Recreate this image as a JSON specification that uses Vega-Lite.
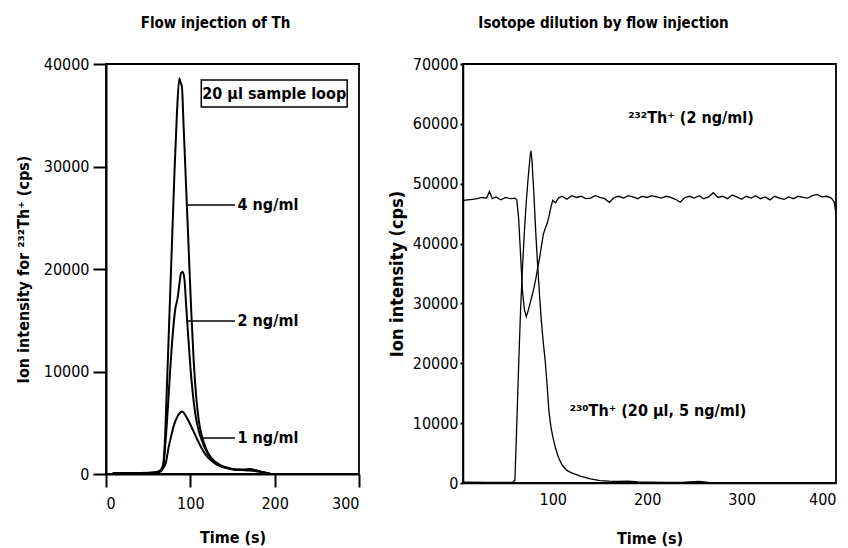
{
  "$schema": "https://vega.github.io/schema/vega-lite/v6.json",
  "background": "white",
  "padding": {"left": 14, "top": 15, "right": 0, "bottom": 0},
  "config": {
    "font": "DejaVu Sans Condensed",
    "view": {"stroke": "black", "strokeWidth": 1.8},
    "axis": {"grid": false, "format": "d", "domainColor": "black", "domainWidth": 2, "tickColor": "black", "tickWidth": 2, "labelColor": "black", "titleColor": "black", "labelFontSize": 16, "titleFontSize": 16, "titleFontWeight": "bold", "labelFont": "DejaVu Sans Condensed", "titleFont": "DejaVu Sans Condensed"},
    "title": {"fontSize": 15, "fontWeight": "bold", "anchor": "middle", "frame": "group", "font": "DejaVu Sans Condensed", "color": "black"},
    "concat": {"spacing": 26}
  },
  "datasets": {
    "left": [
      {"conc": "4", "t": 8, "v": 100}, {"conc": "4", "t": 30, "v": 100}, {"conc": "4", "t": 50, "v": 120}, {"conc": "4", "t": 60, "v": 200}, {"conc": "4", "t": 65, "v": 400}, {"conc": "4", "t": 68, "v": 1000}, {"conc": "4", "t": 70, "v": 3500}, {"conc": "4", "t": 72, "v": 8000}, {"conc": "4", "t": 75, "v": 15000}, {"conc": "4", "t": 78, "v": 22000}, {"conc": "4", "t": 81, "v": 29000}, {"conc": "4", "t": 84, "v": 35000}, {"conc": "4", "t": 87, "v": 38600}, {"conc": "4", "t": 88, "v": 38300}, {"conc": "4", "t": 90, "v": 37800}, {"conc": "4", "t": 92, "v": 34000}, {"conc": "4", "t": 95, "v": 28000}, {"conc": "4", "t": 98, "v": 22000}, {"conc": "4", "t": 101, "v": 16000}, {"conc": "4", "t": 104, "v": 11000}, {"conc": "4", "t": 107, "v": 7500}, {"conc": "4", "t": 110, "v": 5200}, {"conc": "4", "t": 114, "v": 3600}, {"conc": "4", "t": 118, "v": 2600}, {"conc": "4", "t": 122, "v": 1900}, {"conc": "4", "t": 128, "v": 1300}, {"conc": "4", "t": 135, "v": 900}, {"conc": "4", "t": 145, "v": 600}, {"conc": "4", "t": 155, "v": 450}, {"conc": "4", "t": 165, "v": 450}, {"conc": "4", "t": 170, "v": 500}, {"conc": "4", "t": 175, "v": 400}, {"conc": "4", "t": 185, "v": 200}, {"conc": "4", "t": 195, "v": 50},
      {"conc": "2", "t": 8, "v": 80}, {"conc": "2", "t": 50, "v": 100}, {"conc": "2", "t": 60, "v": 180}, {"conc": "2", "t": 65, "v": 350}, {"conc": "2", "t": 68, "v": 900}, {"conc": "2", "t": 70, "v": 2500}, {"conc": "2", "t": 73, "v": 6000}, {"conc": "2", "t": 76, "v": 10000}, {"conc": "2", "t": 79, "v": 13500}, {"conc": "2", "t": 82, "v": 16000}, {"conc": "2", "t": 85, "v": 17200}, {"conc": "2", "t": 87, "v": 18500}, {"conc": "2", "t": 89, "v": 19600}, {"conc": "2", "t": 91, "v": 19700}, {"conc": "2", "t": 93, "v": 19000}, {"conc": "2", "t": 95, "v": 16500}, {"conc": "2", "t": 97, "v": 14000}, {"conc": "2", "t": 100, "v": 10500}, {"conc": "2", "t": 103, "v": 7800}, {"conc": "2", "t": 106, "v": 5800}, {"conc": "2", "t": 110, "v": 4200}, {"conc": "2", "t": 114, "v": 3200}, {"conc": "2", "t": 118, "v": 2400}, {"conc": "2", "t": 122, "v": 1800}, {"conc": "2", "t": 128, "v": 1200}, {"conc": "2", "t": 135, "v": 800}, {"conc": "2", "t": 145, "v": 550}, {"conc": "2", "t": 155, "v": 400}, {"conc": "2", "t": 165, "v": 400}, {"conc": "2", "t": 172, "v": 450}, {"conc": "2", "t": 180, "v": 300}, {"conc": "2", "t": 190, "v": 100},
      {"conc": "1", "t": 8, "v": 60}, {"conc": "1", "t": 50, "v": 80}, {"conc": "1", "t": 60, "v": 120}, {"conc": "1", "t": 65, "v": 250}, {"conc": "1", "t": 68, "v": 600}, {"conc": "1", "t": 71, "v": 1100}, {"conc": "1", "t": 74, "v": 2500}, {"conc": "1", "t": 77, "v": 3600}, {"conc": "1", "t": 80, "v": 4600}, {"conc": "1", "t": 84, "v": 5500}, {"conc": "1", "t": 88, "v": 6000}, {"conc": "1", "t": 90, "v": 6100}, {"conc": "1", "t": 92, "v": 6000}, {"conc": "1", "t": 95, "v": 5600}, {"conc": "1", "t": 99, "v": 5000}, {"conc": "1", "t": 103, "v": 4300}, {"conc": "1", "t": 107, "v": 3600}, {"conc": "1", "t": 111, "v": 2900}, {"conc": "1", "t": 115, "v": 2300}, {"conc": "1", "t": 120, "v": 1700}, {"conc": "1", "t": 125, "v": 1300}, {"conc": "1", "t": 132, "v": 900}, {"conc": "1", "t": 140, "v": 650}, {"conc": "1", "t": 148, "v": 500}, {"conc": "1", "t": 160, "v": 400}, {"conc": "1", "t": 170, "v": 350}, {"conc": "1", "t": 180, "v": 250}, {"conc": "1", "t": 190, "v": 100}
    ],
    "leftLabels": [
      {"label": "4 ng/ml", "x1": 97, "x2": 153, "y": 26240, "tx": 156},
      {"label": "2 ng/ml", "x1": 97, "x2": 153, "y": 14930, "tx": 156},
      {"label": "1 ng/ml", "x1": 115, "x2": 153, "y": 3510, "tx": 156}
    ],
    "leftBox": [
      {"label": "20 µl sample loop", "x1": 113, "x2": 286, "y1": 35800, "y2": 38440, "xc": 199.5, "yc": 37120}
    ],
    "th232": [
      {"t": 5, "v": 47200}, {"t": 10, "v": 47300}, {"t": 15, "v": 47400}, {"t": 20, "v": 47500}, {"t": 25, "v": 47700}, {"t": 30, "v": 47600}, {"t": 33, "v": 48700}, {"t": 36, "v": 47500}, {"t": 40, "v": 47800}, {"t": 45, "v": 47300}, {"t": 50, "v": 47700}, {"t": 55, "v": 47500}, {"t": 60, "v": 47600}, {"t": 62, "v": 47300}, {"t": 64, "v": 44000}, {"t": 66, "v": 38000}, {"t": 68, "v": 32000}, {"t": 70, "v": 29000}, {"t": 72, "v": 27800}, {"t": 74, "v": 28800}, {"t": 76, "v": 30000}, {"t": 78, "v": 31200}, {"t": 80, "v": 32500}, {"t": 82, "v": 34000}, {"t": 84, "v": 35800}, {"t": 86, "v": 37500}, {"t": 88, "v": 39500}, {"t": 90, "v": 41500}, {"t": 92, "v": 42500}, {"t": 94, "v": 43300}, {"t": 96, "v": 44500}, {"t": 98, "v": 46000}, {"t": 100, "v": 47200}, {"t": 103, "v": 46800}, {"t": 106, "v": 47600}, {"t": 110, "v": 47900}, {"t": 115, "v": 47400}, {"t": 120, "v": 48000}, {"t": 125, "v": 47700}, {"t": 130, "v": 47900}, {"t": 135, "v": 47500}, {"t": 140, "v": 47600}, {"t": 145, "v": 48000}, {"t": 150, "v": 47700}, {"t": 155, "v": 47500}, {"t": 160, "v": 46900}, {"t": 165, "v": 47700}, {"t": 170, "v": 47900}, {"t": 175, "v": 47600}, {"t": 180, "v": 48000}, {"t": 185, "v": 47800}, {"t": 190, "v": 47500}, {"t": 195, "v": 47900}, {"t": 200, "v": 47700}, {"t": 205, "v": 48000}, {"t": 210, "v": 47800}, {"t": 215, "v": 47600}, {"t": 220, "v": 47900}, {"t": 225, "v": 47700}, {"t": 230, "v": 47400}, {"t": 235, "v": 46900}, {"t": 240, "v": 47700}, {"t": 245, "v": 47900}, {"t": 250, "v": 47600}, {"t": 255, "v": 48000}, {"t": 260, "v": 47500}, {"t": 265, "v": 47800}, {"t": 270, "v": 48500}, {"t": 275, "v": 47700}, {"t": 280, "v": 47900}, {"t": 285, "v": 47500}, {"t": 290, "v": 48100}, {"t": 295, "v": 47800}, {"t": 300, "v": 47400}, {"t": 305, "v": 47900}, {"t": 310, "v": 47600}, {"t": 315, "v": 48000}, {"t": 320, "v": 47500}, {"t": 325, "v": 47800}, {"t": 330, "v": 47300}, {"t": 335, "v": 47900}, {"t": 340, "v": 47600}, {"t": 345, "v": 47400}, {"t": 350, "v": 47800}, {"t": 355, "v": 47500}, {"t": 360, "v": 47900}, {"t": 365, "v": 47700}, {"t": 370, "v": 47600}, {"t": 375, "v": 48000}, {"t": 380, "v": 48200}, {"t": 385, "v": 47800}, {"t": 390, "v": 47900}, {"t": 395, "v": 47600}, {"t": 398, "v": 47000}, {"t": 400, "v": 45000}
    ],
    "th230": [
      {"t": 5, "v": 150}, {"t": 30, "v": 100}, {"t": 58, "v": 100}, {"t": 60, "v": 500}, {"t": 62, "v": 10000}, {"t": 64, "v": 20000}, {"t": 66, "v": 29000}, {"t": 68, "v": 36000}, {"t": 70, "v": 42000}, {"t": 72, "v": 47000}, {"t": 74, "v": 51000}, {"t": 76, "v": 54500}, {"t": 77, "v": 55500}, {"t": 78, "v": 54000}, {"t": 80, "v": 48500}, {"t": 82, "v": 42000}, {"t": 84, "v": 36500}, {"t": 86, "v": 31500}, {"t": 88, "v": 27000}, {"t": 90, "v": 23500}, {"t": 92, "v": 20500}, {"t": 94, "v": 16500}, {"t": 96, "v": 12000}, {"t": 98, "v": 9500}, {"t": 100, "v": 7800}, {"t": 103, "v": 5800}, {"t": 106, "v": 4300}, {"t": 110, "v": 3000}, {"t": 115, "v": 2100}, {"t": 120, "v": 1700}, {"t": 125, "v": 1400}, {"t": 130, "v": 1100}, {"t": 140, "v": 700}, {"t": 150, "v": 400}, {"t": 160, "v": 300}, {"t": 170, "v": 250}, {"t": 180, "v": 300}, {"t": 190, "v": 200}, {"t": 200, "v": 150}, {"t": 220, "v": 100}, {"t": 240, "v": 150}, {"t": 255, "v": 250}, {"t": 265, "v": 100}, {"t": 300, "v": 50}, {"t": 350, "v": 50}, {"t": 400, "v": 50}
    ],
    "rightLabels": [
      {"label": "²³²Th⁺ (2 ng/ml)", "t": 180, "v": 61000},
      {"label": "²³⁰Th⁺ (20 µl, 5 ng/ml)", "t": 118, "v": 12000}
    ]
  },
  "hconcat": [
    {
      "width": 253,
      "height": 410,
      "title": {"text": "Flow injection of Th", "offset": 25, "dx": -17},
      "encoding": {
        "x": {"type": "quantitative", "scale": {"domain": [0, 300], "nice": false}, "axis": {"values": [0, 100, 200, 300], "tickSize": 13, "labelPadding": 8, "title": "Time (s)", "titlePadding": 18}},
        "y": {"type": "quantitative", "scale": {"domain": [0, 40000], "nice": false}, "axis": {"values": [0, 10000, 20000, 30000, 40000], "tickSize": 13, "labelPadding": 4, "title": "Ion intensity for ²³²Th⁺ (cps)", "titlePadding": 12}}
      },
      "layer": [
        {"data": {"name": "left"}, "mark": {"type": "line", "color": "black", "strokeWidth": 2, "interpolate": "monotone"},
         "encoding": {"x": {"field": "t"}, "y": {"field": "v"}, "detail": {"field": "conc"}}},
        {"data": {"name": "leftLabels"}, "mark": {"type": "rule", "color": "black", "strokeWidth": 1.5},
         "encoding": {"x": {"field": "x1"}, "x2": {"field": "x2"}, "y": {"field": "y"}}},
        {"data": {"name": "leftLabels"}, "mark": {"type": "text", "align": "left", "baseline": "middle", "fontSize": 16, "fontWeight": "bold", "color": "black"},
         "encoding": {"x": {"field": "tx"}, "y": {"field": "y"}, "text": {"field": "label"}}},
        {"data": {"name": "leftBox"}, "mark": {"type": "rect", "fill": "white", "stroke": "black", "strokeWidth": 1.5},
         "encoding": {"x": {"field": "x1"}, "x2": {"field": "x2"}, "y": {"field": "y1"}, "y2": {"field": "y2"}}},
        {"data": {"name": "leftBox"}, "mark": {"type": "text", "align": "center", "baseline": "middle", "fontSize": 16, "fontWeight": "bold", "color": "black"},
         "encoding": {"x": {"field": "xc"}, "y": {"field": "yc"}, "text": {"field": "label"}}}
      ]
    },
    {
      "width": 373,
      "height": 419,
      "title": {"text": "Isotope dilution by flow injection", "offset": 25, "dx": -46},
      "encoding": {
        "x": {"type": "quantitative", "scale": {"domain": [5, 400], "nice": false}, "axis": {"values": [100, 200, 300, 400], "tickSize": 0, "labelPadding": 8, "domainWidth": 1.5, "title": "Time (s)", "titlePadding": 23}},
        "y": {"type": "quantitative", "scale": {"domain": [0, 70000], "nice": false}, "axis": {"values": [0, 10000, 20000, 30000, 40000, 50000, 60000, 70000], "tickSize": 3, "domainWidth": 1.5, "labelPadding": 2, "title": "Ion intensity (cps)", "titleFontSize": 18, "titlePadding": 6}}
      },
      "layer": [
        {"data": {"name": "th232"}, "mark": {"type": "line", "color": "black", "strokeWidth": 1.3},
         "encoding": {"x": {"field": "t"}, "y": {"field": "v"}}},
        {"data": {"name": "th230"}, "mark": {"type": "line", "color": "black", "strokeWidth": 1.3},
         "encoding": {"x": {"field": "t"}, "y": {"field": "v"}}},
        {"data": {"name": "rightLabels"}, "mark": {"type": "text", "align": "left", "baseline": "middle", "fontSize": 16, "fontWeight": "bold", "color": "black"},
         "encoding": {"x": {"field": "t"}, "y": {"field": "v"}, "text": {"field": "label"}}}
      ]
    }
  ]
}
